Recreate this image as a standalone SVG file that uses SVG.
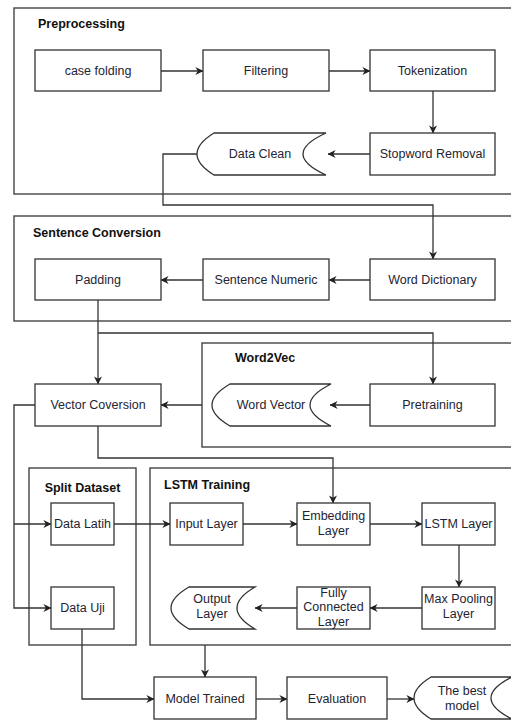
<svg xmlns="http://www.w3.org/2000/svg" width="511" height="720" viewBox="0 0 511 720">
  <defs>
    <marker id="arrow" viewBox="0 0 10 10" refX="9.5" refY="5" markerWidth="8" markerHeight="8" markerUnits="userSpaceOnUse" orient="auto">
      <path d="M0,0 L10,5 L0,10 L3,5 Z" fill="#222"/>
    </marker>
  </defs>
  <style>
    .group { fill: #fff; stroke: #444; stroke-width: 1.4; }
    .box { fill: #fff; stroke: #333; stroke-width: 1.3; }
    .title { font-family: "Liberation Sans", Arial, sans-serif; font-size: 12.5px; font-weight: bold; fill: #111; }
    .lbl { font-family: "Liberation Sans", Arial, sans-serif; font-size: 12.5px; fill: #1e2433; text-anchor: middle; }
    .edge { fill: none; stroke: #333; stroke-width: 1.3; }
    .arr { marker-end: url(#arrow); }
  </style>
  <rect width="511" height="720" fill="#fff"/>

  <!-- containers -->
  <g id="grp-preprocessing">
    <rect class="group" x="14" y="8" width="510" height="186"/>
    <text class="title" x="38" y="28">Preprocessing</text>
  </g>
  <g id="grp-sentence">
    <rect class="group" x="14" y="216" width="510" height="105"/>
    <text class="title" x="33" y="237">Sentence Conversion</text>
  </g>
  <g id="grp-word2vec">
    <rect class="group" x="202" y="343" width="322" height="104"/>
    <text class="title" x="235" y="362">Word2Vec</text>
  </g>
  <g id="grp-split">
    <rect class="group" x="29" y="468" width="107" height="177"/>
    <text class="title" x="82.5" y="492" text-anchor="middle">Split Dataset</text>
  </g>
  <g id="grp-lstm">
    <rect class="group" x="150" y="468" width="374" height="177"/>
    <text class="title" x="164" y="489">LSTM Training</text>
  </g>

  <!-- connectors -->
  <g id="connectors">
    <path class="edge arr" d="M161,71 L203,71"/>
    <path class="edge arr" d="M329,71 L370,71"/>
    <path class="edge arr" d="M433,91 L433,133"/>
    <path class="edge arr" d="M370,154 L328,154"/>
    <path class="edge arr" d="M197,154 L163,154 L163,205 L433,205 L433,259"/>
    <path class="edge arr" d="M370,280 L329,280"/>
    <path class="edge arr" d="M203,280 L161,280"/>
    <path class="edge arr" d="M98,300 L98,384"/>
    <path class="edge arr" d="M98,333 L433,333 L433,384"/>
    <path class="edge arr" d="M370,405 L330,405"/>
    <path class="edge arr" d="M202,405 L161,405"/>
    <path class="edge arr" d="M35,405 L14,405 L14,608 L51,608"/>
    <path class="edge arr" d="M14,524 L51,524"/>
    <path class="edge arr" d="M98,426 L98,458 L333,458 L333,503"/>
    <path class="edge arr" d="M114,524 L170,524"/>
    <path class="edge arr" d="M243,524 L297,524"/>
    <path class="edge arr" d="M370,524 L422,524"/>
    <path class="edge arr" d="M459,545 L459,587"/>
    <path class="edge arr" d="M422,608 L370,608"/>
    <path class="edge arr" d="M297,608 L255,608"/>
    <path class="edge arr" d="M205,645 L205,677"/>
    <path class="edge arr" d="M82,629 L82,699 L154,699"/>
    <path class="edge arr" d="M256,699 L287,699"/>
    <path class="edge arr" d="M387,699 L414,699"/>
  </g>

  <!-- preprocessing nodes -->
  <g id="case-folding">
    <rect class="box" x="35" y="50" width="126" height="41"/>
    <text class="lbl" x="98" y="75">case folding</text>
  </g>
  <g id="filtering">
    <rect class="box" x="203" y="50" width="126" height="41"/>
    <text class="lbl" x="266" y="75">Filtering</text>
  </g>
  <g id="tokenization">
    <rect class="box" x="370" y="50" width="125" height="41"/>
    <text class="lbl" x="432.5" y="75">Tokenization</text>
  </g>
  <g id="stopword-removal">
    <rect class="box" x="370" y="133" width="125" height="42"/>
    <text class="lbl" x="432.5" y="158">Stopword Removal</text>
  </g>
  <g id="data-clean">
    <path class="box" d="M214,133 L326,133 Q280,154 326,175 L214,175 Q180,154 214,133 Z"/>
    <text class="lbl" x="260" y="158">Data Clean</text>
  </g>

  <!-- sentence conversion nodes -->
  <g id="padding">
    <rect class="box" x="35" y="259" width="126" height="41"/>
    <text class="lbl" x="98" y="284">Padding</text>
  </g>
  <g id="sentence-numeric">
    <rect class="box" x="203" y="259" width="126" height="41"/>
    <text class="lbl" x="266" y="284">Sentence Numeric</text>
  </g>
  <g id="word-dictionary">
    <rect class="box" x="370" y="259" width="125" height="41"/>
    <text class="lbl" x="432.5" y="284">Word Dictionary</text>
  </g>

  <!-- word2vec nodes -->
  <g id="vector-coversion">
    <rect class="box" x="35" y="384" width="126" height="42"/>
    <text class="lbl" x="98" y="409">Vector Coversion</text>
  </g>
  <g id="word-vector">
    <path class="box" d="M230,384 L331,384 Q289,405 331,426 L230,426 Q194,405 230,384 Z"/>
    <text class="lbl" x="271" y="409">Word Vector</text>
  </g>
  <g id="pretraining">
    <rect class="box" x="370" y="384" width="125" height="42"/>
    <text class="lbl" x="432.5" y="409">Pretraining</text>
  </g>

  <!-- split dataset nodes -->
  <g id="data-latih">
    <rect class="box" x="51" y="503" width="63" height="42"/>
    <text class="lbl" x="82.5" y="528">Data Latih</text>
  </g>
  <g id="data-uji">
    <rect class="box" x="51" y="587" width="63" height="42"/>
    <text class="lbl" x="82.5" y="612">Data Uji</text>
  </g>

  <!-- lstm training nodes -->
  <g id="input-layer">
    <rect class="box" x="170" y="503" width="73" height="42"/>
    <text class="lbl" x="206.5" y="528">Input Layer</text>
  </g>
  <g id="embedding-layer">
    <rect class="box" x="297" y="503" width="73" height="42"/>
    <text class="lbl" x="333.5" y="520">Embedding</text>
    <text class="lbl" x="333.5" y="535">Layer</text>
  </g>
  <g id="lstm-layer">
    <rect class="box" x="422" y="503" width="73" height="42"/>
    <text class="lbl" x="458.5" y="528">LSTM Layer</text>
  </g>
  <g id="max-pooling-layer">
    <rect class="box" x="422" y="587" width="73" height="42"/>
    <text class="lbl" x="458.5" y="603">Max Pooling</text>
    <text class="lbl" x="458.5" y="618">Layer</text>
  </g>
  <g id="fully-connected-layer">
    <rect class="box" x="297" y="587" width="73" height="42"/>
    <text class="lbl" x="333.5" y="597">Fully</text>
    <text class="lbl" x="333.5" y="611">Connected</text>
    <text class="lbl" x="333.5" y="626">Layer</text>
  </g>
  <g id="output-layer">
    <path class="box" d="M189,587 L255,587 Q219,608 255,629 L189,629 Q153,608 189,587 Z"/>
    <text class="lbl" x="212" y="603">Output</text>
    <text class="lbl" x="212" y="618">Layer</text>
  </g>

  <!-- result nodes -->
  <g id="model-trained">
    <rect class="box" x="154" y="677" width="102" height="42"/>
    <text class="lbl" x="205" y="703">Model Trained</text>
  </g>
  <g id="evaluation">
    <rect class="box" x="287" y="677" width="100" height="42"/>
    <text class="lbl" x="337" y="703">Evaluation</text>
  </g>
  <g id="best-model">
    <path class="box" d="M431,677 L512,677 Q470,698 512,719 L431,719 Q397,698 431,677 Z"/>
    <text class="lbl" x="462" y="695">The best</text>
    <text class="lbl" x="462" y="710">model</text>
  </g>
</svg>
